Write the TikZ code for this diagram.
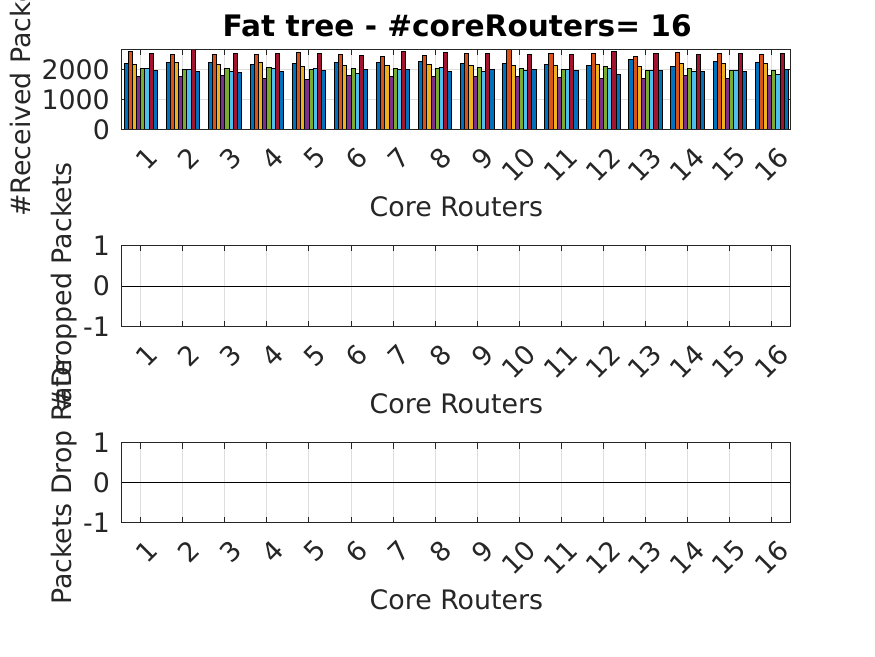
\documentclass[tikz,border=0pt]{standalone}
\usepackage{fontspec}
\setmainfont{DejaVu Sans}
\definecolor{c0}{rgb}{0,0.447,0.741}
\definecolor{c1}{rgb}{0.85,0.325,0.098}
\definecolor{c2}{rgb}{0.929,0.694,0.125}
\definecolor{c3}{rgb}{0.494,0.184,0.556}
\definecolor{c4}{rgb}{0.466,0.674,0.188}
\definecolor{c5}{rgb}{0.301,0.745,0.933}
\definecolor{c6}{rgb}{0.635,0.078,0.184}
\definecolor{c7}{rgb}{0,0.447,0.741}
\definecolor{axc}{rgb}{0.15,0.15,0.15}
\definecolor{gridc}{rgb}{0.87,0.87,0.87}
\begin{document}
\begin{tikzpicture}[x=1pt,y=-1pt,
  axl/.style={draw=axc, line width=1pt},
  gridl/.style={draw=gridc, line width=1pt},
  lbl/.style={font=\fontsize{26.8}{30}\selectfont, text=axc, inner sep=0pt},
  ttl/.style={font=\bfseries\fontsize{29.6}{33}\selectfont, text=black, inner sep=0pt},
  barbox/.style={draw=black, line width=0.9pt}]
\useasboundingbox (0,0) rectangle (875,656);
\fill[white] (0,0) rectangle (875,656);
% common x parts of the three axes
\foreach \at/\ab/\nm in {49.3/129.3/a, 245.3/326.5/b, 442.7/522.3/c} {
  \foreach \i in {1,...,16} {
    \pgfmathsetmacro\tx{140.7+(\i-1)*42.07}
    \draw[gridl] (\tx,\at) -- (\tx,\ab);
    \draw[axl] (\tx,\at) -- (\tx,\at+5.8);
    \draw[axl] (\tx,\ab) -- (\tx,\ab-5.8);
    \node[lbl, anchor=east, rotate=45] (xt\nm\i) at (\tx+11.7,\ab+22.7) {\i};
  }
  \node[lbl, anchor=base] (xl\nm) at (456.4,\ab+86.7) {Core Routers};
}
% horizontal grid of the first axes
\draw[gridl] (121.7,99.3) -- (790.7,99.3);
\draw[gridl] (121.7,69.3) -- (790.7,69.3);
\foreach \yy in {99.3,69.3} {
  \draw[axl] (121.7,\yy) -- (128.3,\yy);
  \draw[axl] (790.7,\yy) -- (784.1,\yy);
}
% bars
\begin{scope}
\clip (121.7,49.3) rectangle (790.7,129.3);
\foreach \g/\vals in {
 1/{2200,2600,2167,1767,2033,2033,2533,1967},
 2/{2233,2500,2233,1767,2000,2000,2700,1933},
 3/{2233,2500,2167,1800,2033,1933,2533,1900},
 4/{2167,2500,2233,1700,2067,2033,2533,1933},
 5/{2200,2567,2100,1667,2000,2033,2533,1967},
 6/{2233,2500,2133,1800,2033,1867,2467,2000},
 7/{2233,2433,2133,1767,2033,2000,2600,2000},
 8/{2267,2467,2167,1767,2033,2067,2567,1933},
 9/{2200,2533,2133,1767,2067,1933,2533,2000},
 10/{2200,2700,2133,1767,2033,1967,2500,2000},
 11/{2167,2533,2133,1733,2000,2000,2500,1967},
 12/{2133,2533,2167,1700,2100,2033,2600,1833},
 13/{2333,2433,2100,1700,1967,1967,2533,1967},
 14/{2100,2567,2200,1800,2033,1933,2500,1933},
 15/{2267,2533,2200,1700,1967,1967,2533,1933},
 16/{2233,2500,2200,1800,1967,1833,2533,2000}} {
  \foreach \v [count=\j from 0] in \vals {
    \pgfmathsetmacro\bl{140.7+(\g-1)*42.07+(\j-4)*4.175}
    \pgfmathsetmacro\bt{max(48,129.3-\v*0.03)}
    \draw[barbox, fill=c\j] (\bl,129.3) rectangle ({\bl+4.175},\bt);
  }
}
\end{scope}
% zero baselines
\draw[black, line width=1pt] (121.7,286.7) -- (790.7,286.7);
\draw[black, line width=1pt] (121.7,482.5) -- (790.7,482.5);
% boxes
\draw[axl] (121.7,49.3) rectangle (790.7,129.3);
\draw[axl] (121.7,245.3) rectangle (790.7,326.5);
\draw[axl] (121.7,442.7) rectangle (790.7,522.3);
% y tick labels
\node[lbl, anchor=east] (ya0) at (110,129.3) {0};
\node[lbl, anchor=east] (ya1) at (110,99.3) {1000};
\node[lbl, anchor=east] (ya2) at (110,69.3) {2000};
\node[lbl, anchor=east] (yb1) at (110,245.3) {1};
\node[lbl, anchor=east] (yb0) at (110,286.2) {0};
\node[lbl, anchor=east] (ybm) at (110,326.5) {-1};
\node[lbl, anchor=east] (yc1) at (110,442.7) {1};
\node[lbl, anchor=east] (yc0) at (110,482.5) {0};
\node[lbl, anchor=east] (ycm) at (110,522.3) {-1};
% axis labels
\node[lbl, anchor=base, rotate=90] (yla) at (30.5,89.3) {\#Received Packets};
\node[lbl, anchor=base, rotate=90] (ylb) at (71,286.2) {\#Dropped Packets};
\node[lbl, anchor=base, rotate=90] (ylc) at (71.5,482.5) {Packets Drop Rate};
% title
\node[ttl, anchor=base] (title) at (457.2,36) {Fat tree - \#coreRouters= 16};
\end{tikzpicture}
\end{document}
